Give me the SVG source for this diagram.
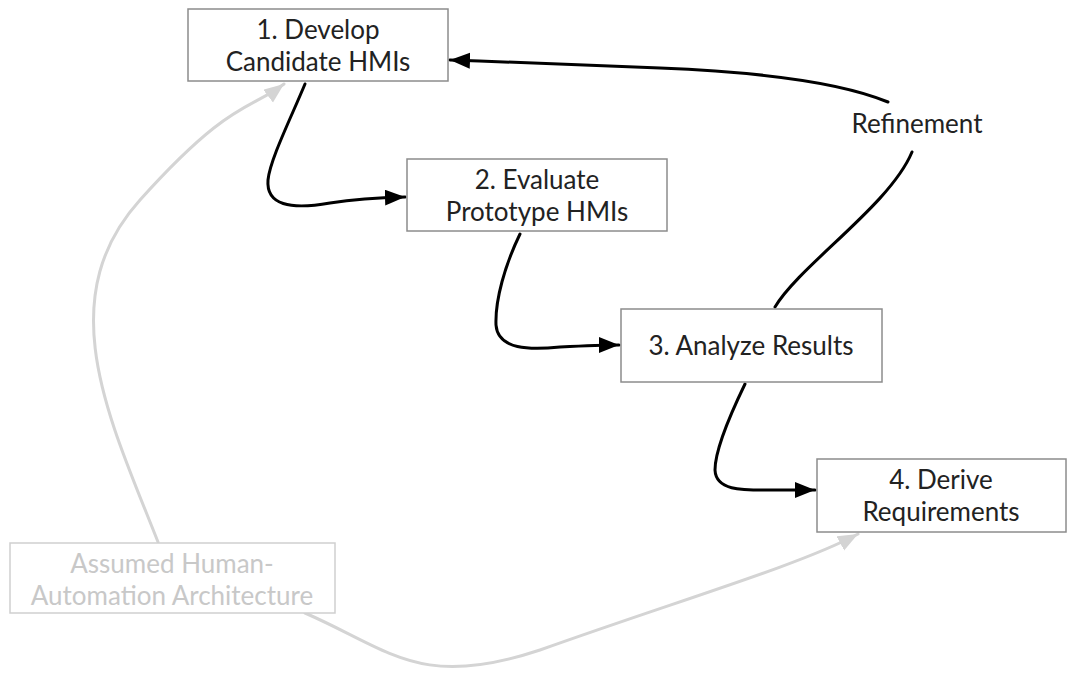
<svg xmlns="http://www.w3.org/2000/svg" width="1070" height="682" viewBox="0 0 1070 682">
<style>
.box{fill:#fff;stroke:#8c8c8c;stroke-width:1.5}
.gbox{fill:#fff;stroke:#cfcfcf;stroke-width:1.5}
.t{font-family:Lato,"Liberation Sans",sans-serif;font-size:26px;fill:#222;text-anchor:middle}
.gt{font-family:Lato,"Liberation Sans",sans-serif;font-size:26px;fill:#c8c8c8;text-anchor:middle}
.c{fill:none;stroke:#000;stroke-width:3;stroke-linecap:round}
.gc{fill:none;stroke:#d4d4d4;stroke-width:3;stroke-linecap:round}
</style>
<defs>
<marker id="ah" markerUnits="userSpaceOnUse" markerWidth="22" markerHeight="18" refX="20" refY="8" orient="auto"><path d="M0,0 L20,8 L0,16 Z" fill="#000"/></marker>
<marker id="gah" markerUnits="userSpaceOnUse" markerWidth="22" markerHeight="18" refX="20" refY="8" orient="auto"><path d="M0,0 L20,8 L0,16 Z" fill="#d4d4d4"/></marker>
</defs>
<g id="connectors">
<path class="gc" d="M158,542 C 110,420 50,300 140,200 S 250,110 284,84" marker-end="url(#gah)"/>
<path class="gc" d="M305,613 C 390,650 420,690 540,650 C 680,600 800,565 858,534" marker-end="url(#gah)"/>
<path class="c" d="M305,84 C 290,120 270,160 268,180 C 266,205 290,210 330,203 C 350,200 370,198 405,197" marker-end="url(#ah)"/>
<path class="c" d="M520,234 C 505,265 495,300 496,325 C 498,350 530,350 560,347 C 580,346 600,345 619,345" marker-end="url(#ah)"/>
<path class="c" d="M745,384 C 730,415 715,450 715,470 C 716,492 745,490 775,490 C 790,490 800,490 815,490" marker-end="url(#ah)"/>
<path class="c" d="M775,307 C 800,265 890,205 912,152"/>
<path class="c" d="M888,102 C 840,82 760,72 660,68 C 560,64 510,62 450,60" marker-end="url(#ah)"/>
</g>
<g id="node1"><rect class="box" x="188" y="9" width="260" height="72"/><text class="t" x="318" y="39">1. Develop</text><text class="t" x="318" y="71">Candidate HMIs</text></g>
<g id="node2"><rect class="box" x="407" y="159" width="260" height="72"/><text class="t" x="537" y="189">2. Evaluate</text><text class="t" x="537" y="221">Prototype HMIs</text></g>
<g id="node3"><rect class="box" x="621" y="309" width="261" height="73"/><text class="t" x="751" y="355">3. Analyze Results</text></g>
<g id="node4"><rect class="box" x="817" y="459" width="249" height="73"/><text class="t" x="941" y="489">4. Derive</text><text class="t" x="941" y="521">Requirements</text></g>
<g id="node5"><rect class="gbox" x="10" y="543" width="325" height="70"/><text class="gt" x="172" y="573">Assumed Human-</text><text class="gt" x="172" y="605">Automation Architecture</text></g>
<g id="label"><text class="t" x="917" y="133">Refinement</text></g>
</svg>
